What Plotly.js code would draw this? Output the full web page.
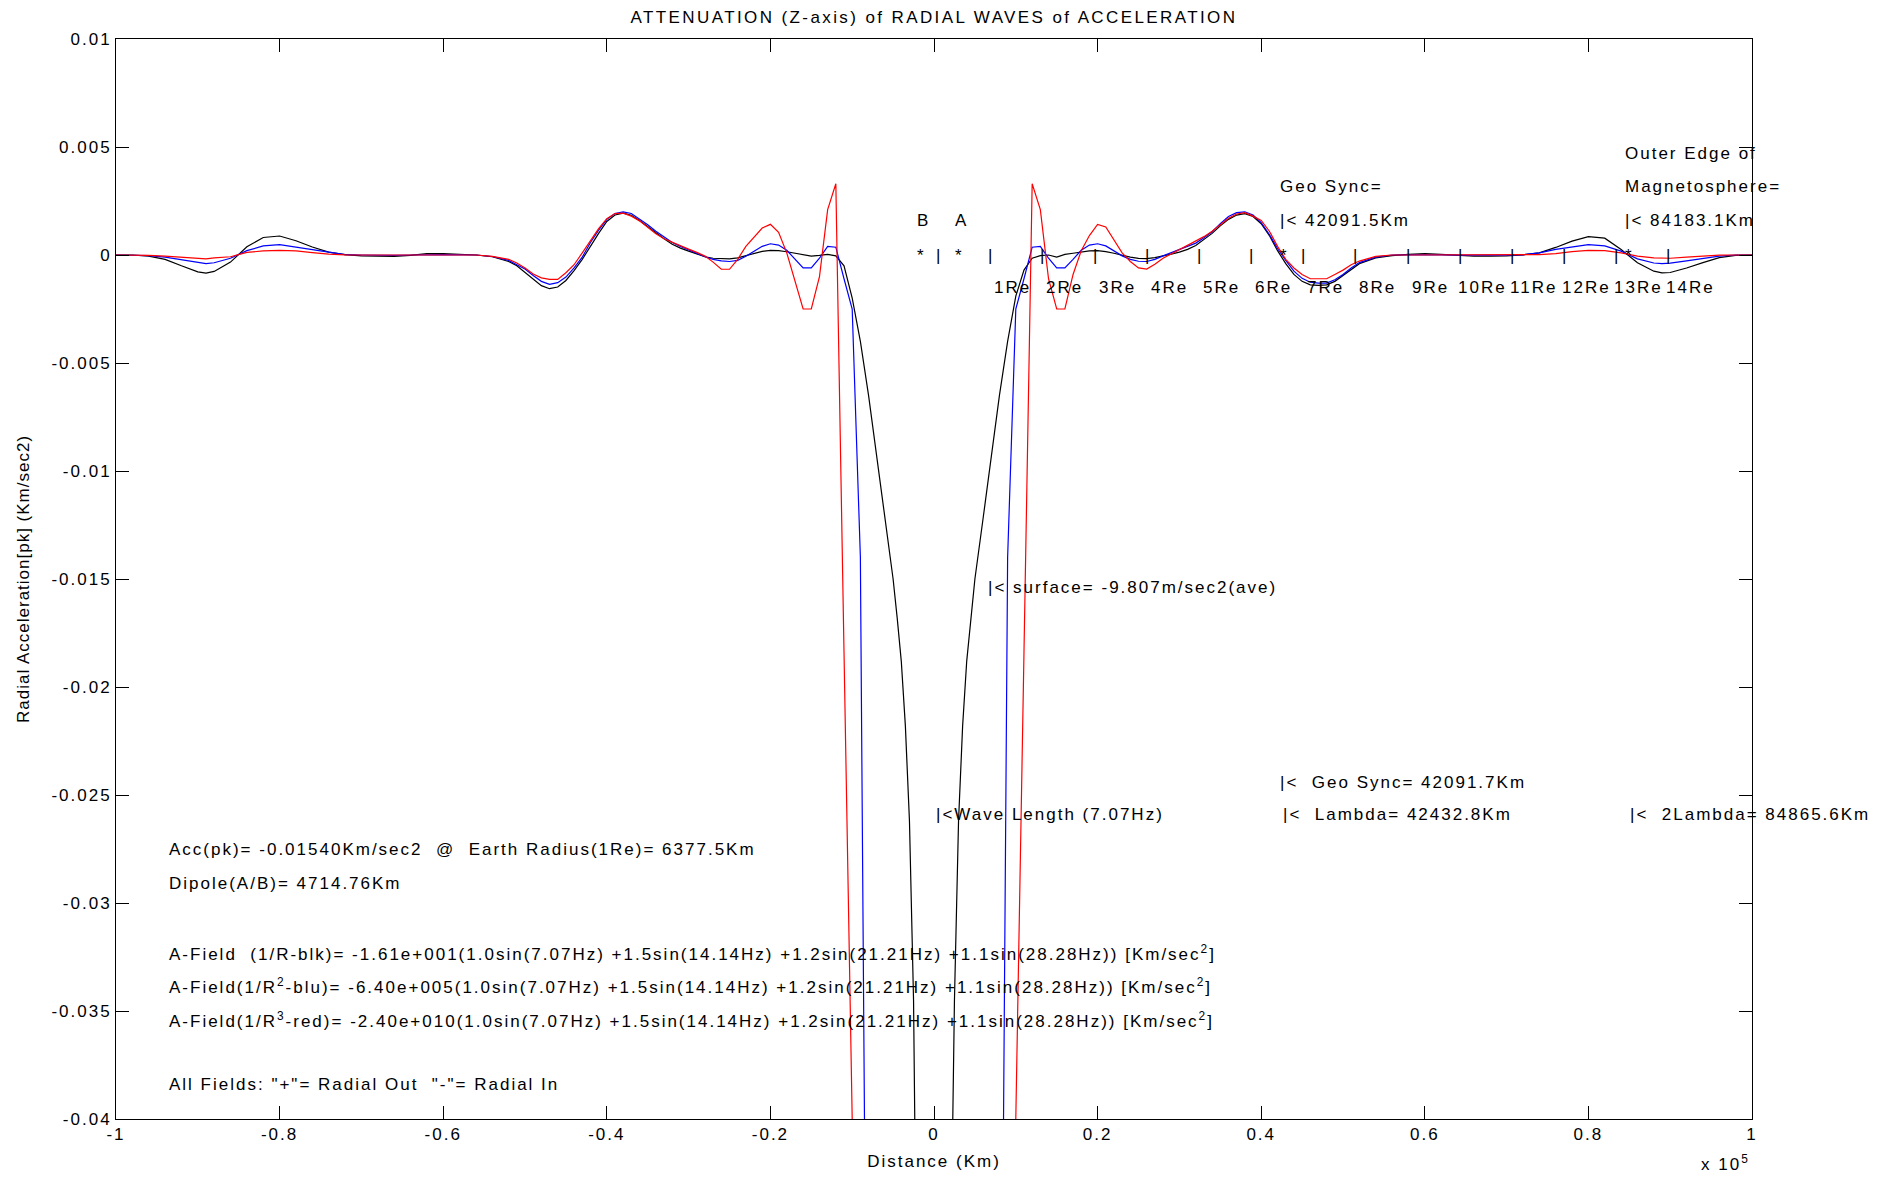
<!DOCTYPE html>
<html>
<head>
<meta charset="utf-8">
<script src="https://cdn.plot.ly/plotly-3.0.1.min.js"></script>
<style>
  html, body { margin: 0; padding: 0; background: #fff; }
  #chart { width: 1892px; height: 1177px; }
  svg text { letter-spacing: 2px; }
  svg text.ytitle { letter-spacing: 1px; }
  svg text.gtitle { letter-spacing: 2.4px; }
</style>
</head>
<body>
<div id="chart"></div>
<script>
// ---- Distance samples (Km) ----
const distKm = [
  -100000,-98000,-96000,-94000,-92000,-90000,-89000,-88000,-86000,-84000,-82000,-80000,-78000,-76000,-74000,-72000,-70000,-68000,-66000,-64000,-62000,-60000,-58000,-56000,-54000,-52000,
  -51000,-50000,-49000,-48000,-47000,-46000,-45000,-44000,-43000,-42000,-41000,-40000,-39000,-38000,-37000,-36000,-35000,-34000,-33000,-32000,-31000,-30000,
  -29000,-28000,-27000,-26000,-25000,-24000,-23000,-22000,-21000,-20000,-19000,-18000,-17000,-16000,-15000,-14000,-13000,-12000,-11000,-10000,
  -9000,-8000,-7000,-6000,-5000,-4500,-4000,-3500,-3000,-2500,-2000,-1000,0,1000,2000,2500,3000,3500,4000,4500,5000,6000,7000,8000,9000,
  10000,11000,12000,13000,14000,15000,16000,17000,18000,19000,20000,21000,22000,23000,24000,25000,26000,27000,28000,29000,
  30000,31000,32000,33000,34000,35000,36000,37000,38000,39000,40000,41000,42000,43000,44000,45000,46000,47000,48000,49000,50000,51000,
  52000,54000,56000,58000,60000,62000,64000,66000,68000,70000,72000,74000,76000,78000,80000,82000,84000,86000,88000,89000,90000,92000,94000,96000,98000,100000
];

// ---- A-Field 1/R (black) [Km/sec^2] ----
const accBlk = [
  0,0,-0.00005,-0.00020,-0.00050,-0.00078,-0.00084,-0.00076,-0.00033,0.00038,0.00081,0.00088,0.00066,0.00037,0.00013,0.00002,-0.00004,-0.00006,-0.00006,-0.00002,0.00006,0.00006,0.00002,0,-0.00008,-0.00030,
  -0.0005,-0.00082,-0.00112,-0.00142,-0.00156,-0.00148,-0.00118,-0.00072,-0.00020,0.00042,0.00100,0.00155,0.00185,0.00194,0.00184,0.00160,0.00131,0.00102,0.00075,0.00050,0.00032,0.00018,
  0.00004,-0.00008,-0.00015,-0.00018,-0.00018,-0.00013,-0.00004,0.00008,0.00017,0.00021,0.00020,0.00015,0.00008,0.00001,-0.00005,-0.00002,0.00003,-0.00004,-0.0005,-0.0020,
  -0.0040,-0.0065,-0.0094,-0.0122,-0.0150,-0.0168,-0.0188,-0.0218,-0.0262,-0.0345,-0.0480,-0.0900,-0.2000,-0.0900,-0.0480,-0.0345,-0.0262,-0.0218,-0.0188,-0.0168,-0.0150,-0.0122,-0.0094,-0.0065,-0.0040,
  -0.0019,-0.0007,-0.00015,-0.00003,0,-0.0001,0.00003,0.00008,0.00015,0.00019,0.00020,0.00016,0.00008,-0.00002,-0.00010,-0.00016,-0.00017,-0.00012,-0.00005,0.00004,
  0.00013,0.00026,0.00044,0.00070,0.00100,0.00135,0.00165,0.00185,0.00191,0.00178,0.00145,0.00090,0.00020,-0.00040,-0.00090,-0.00122,-0.00138,-0.00141,-0.00138,-0.00122,-0.00095,-0.00065,
  -0.0004,-0.00013,-0.00003,0.00003,0.00006,0.00003,-0.00002,-0.00005,-0.00005,-0.00004,0.00001,0.0001,0.00035,0.00064,0.00085,0.00078,0.00025,-0.00036,-0.00075,-0.00083,-0.00081,-0.0006,-0.00035,-0.00012,-0.00002,0
];

// ---- A-Field 1/R^2 (blue) [Km/sec^2] ----
const accBlu = [
  0,0,-0.00003,-0.0001,-0.00022,-0.00036,-0.0004,-0.00036,-0.00015,0.0002,0.00042,0.00048,0.00037,0.00025,0.00012,0.00002,0,-0.00002,-0.00002,0,0.00002,0.00002,0.00001,0,-0.00007,-0.00025,
  -0.00045,-0.00065,-0.00095,-0.00122,-0.00136,-0.00128,-0.00102,-0.0006,-0.0001,0.00058,0.00115,0.00165,0.00192,0.002,0.00192,0.00168,0.0014,0.0011,0.00083,0.00058,0.0004,0.00024,
  0.00008,-0.00008,-0.0002,-0.00027,-0.0003,-0.00025,-0.00006,0.00018,0.0004,0.00052,0.00046,0.00022,-0.0002,-0.0006,-0.0006,-0.00015,0.0004,0.00036,-0.0011,-0.0025,
  -0.014,-0.066,-0.11,-0.17,-0.25,-0.3,-0.35,-0.42,-0.5,-0.6,-0.7,-0.9,-1.0,-0.9,-0.7,-0.6,-0.5,-0.42,-0.35,-0.3,-0.25,-0.17,-0.11,-0.066,-0.014,
  -0.0025,-0.0011,0.00036,0.0004,-0.00015,-0.0006,-0.0006,-0.0002,0.00022,0.00046,0.00052,0.00042,0.00018,-0.00004,-0.0002,-0.00029,-0.0003,-0.0002,-0.00004,0.0001,
  0.00025,0.0004,0.00055,0.0008,0.00108,0.00145,0.00178,0.00196,0.002,0.00185,0.0015,0.00095,0.0003,-0.00025,-0.00075,-0.00108,-0.00126,-0.0013,-0.0013,-0.00115,-0.0009,-0.0006,
  -0.00035,-0.0001,0,0.00001,0.00002,0.00001,-0.00001,-0.00002,-0.00002,-0.00001,0.00001,0.0001,0.00026,0.00038,0.00048,0.00042,0.00018,-0.00018,-0.00037,-0.0004,-0.00038,-0.00027,-0.00016,-0.00005,0,0
];

// ---- A-Field 1/R^3 (red) [Km/sec^2] ----
const accRed = [
  0,0,-0.00002,-0.00005,-0.0001,-0.00013,-0.00018,-0.00013,-0.00008,0.00012,0.00019,0.00021,0.00019,0.00011,0.00004,0.00001,0,0,0,0,0,0,0,0,-0.00006,-0.0002,
  -0.00037,-0.0006,-0.00088,-0.00106,-0.00113,-0.00113,-0.00082,-0.00045,0.0001,0.00068,0.00122,0.00168,0.00192,0.00194,0.0018,0.00158,0.00128,0.00098,0.00075,0.00058,0.00042,0.00027,
  0.00012,-0.00005,-0.00033,-0.00066,-0.00066,-0.0002,0.0004,0.00085,0.00125,0.00142,0.00105,0.0001,-0.0012,-0.0025,-0.0025,-0.001,0.0021,0.0033,-0.0184,-0.04,
  -0.15,-0.25,-0.35,-0.5,-0.7,-0.85,-1,-1.25,-1.5,-1.75,-2,-2.5,-3,-2.5,-2,-1.75,-1.5,-1.25,-1,-0.85,-0.7,-0.5,-0.35,-0.25,-0.15,
  -0.04,-0.0184,0.0033,0.0021,-0.0011,-0.0025,-0.0025,-0.0009,0.0002,0.0009,0.00142,0.0013,0.0007,0.0001,-0.0003,-0.0006,-0.00065,-0.00043,-0.00015,0.00005,
  0.00025,0.00045,0.00063,0.00085,0.0011,0.0014,0.0017,0.0019,0.00196,0.0018,0.0016,0.0011,0.0004,-0.0002,-0.0006,-0.0009,-0.0011,-0.0011,-0.0011,-0.0009,-0.0007,-0.00045,
  -0.00028,-0.00006,0,0,0,0,0,0,0,0,0,0.00002,0.00006,0.00016,0.00021,0.0002,0.0001,-0.00005,-0.00013,-0.00015,-0.00015,-0.0001,-0.00005,-0.00001,0,0
];

// ---- Axis ticks ----
const xTickVals = [-100000,-80000,-60000,-40000,-20000,0,20000,40000,60000,80000,100000];
const xTickText = ['-1','-0.8','-0.6','-0.4','-0.2','0','0.2','0.4','0.6','0.8','1'];
const yTickVals = [0.01,0.005,0,-0.005,-0.01,-0.015,-0.02,-0.025,-0.03,-0.035,-0.04];
const yTickText = ['0.01','0.005','0','-0.005','-0.01','-0.015','-0.02','-0.025','-0.03','-0.035','-0.04'];

// ---- Earth-radius markers ----
const earthRadiusKm = 6377.5;
const reMarkKm = [6377.5,12755,19132.5,25510,31887.5,38265,44642.5,51020,57397.5,63775,70152.5,76530,82907.5,89285];
const reLabels = ['1Re','2Re','3Re','4Re','5Re','6Re','7Re','8Re','9Re','10Re','11Re','12Re','13Re','14Re'];
const dipoleHalfKm = 2357.38;
const geoSyncKm = 42091.5;
const outerEdgeKm = 84183.1;

const FONT = 'Liberation Sans, Arial, Helvetica, sans-serif';
const FS = 17;

const traces = [
  {x: distKm, y: accBlk, type: 'scatter', mode: 'lines', line: {color: '#000000', width: 1.2}, hoverinfo: 'skip'},
  {x: distKm, y: accBlu, type: 'scatter', mode: 'lines', line: {color: '#0000ff', width: 1.2}, hoverinfo: 'skip'},
  {x: distKm, y: accRed, type: 'scatter', mode: 'lines', line: {color: '#ff0000', width: 1.2}, hoverinfo: 'skip'}
];

const ann = [];
function txt(x, y, t, extra) {
  ann.push(Object.assign({x: x, y: y, xref: 'x', yref: 'y', text: t, showarrow: false,
    xanchor: 'left', yanchor: 'middle', font: {family: FONT, size: FS, color: '#000'}}, extra || {}));
}
// dipole markers
txt(-dipoleHalfKm, 0.0016, 'B');
txt(dipoleHalfKm, 0.0016, 'A');
txt(-dipoleHalfKm, 0, '*');
txt(dipoleHalfKm, 0, '*');
txt(0, 0, '|');
reMarkKm.forEach((k, i) => {
  txt(k, 0, '|');
  txt(k, -0.0015, reLabels[i], {xshift: reLabels[i].length === 3 ? 6 : 0});
});
txt(geoSyncKm, 0, '*');
txt(outerEdgeKm, 0, '*');
txt(geoSyncKm, 0.00318, 'Geo Sync=');
txt(geoSyncKm, 0.0016, '|< 42091.5Km');
txt(outerEdgeKm, 0.0047, 'Outer Edge of');
txt(outerEdgeKm, 0.00318, 'Magnetosphere=');
txt(outerEdgeKm, 0.0016, '|< 84183.1Km');
txt(earthRadiusKm, -0.0154, '|< surface= -9.807m/sec2(ave)');
txt(0, -0.0259, '|<Wave Length (7.07Hz)');
txt(42091.7, -0.0244, '|<\u00a0 Geo Sync= 42091.7Km');
txt(42432.8, -0.0259, '|<\u00a0 Lambda= 42432.8Km');
txt(84865.6, -0.0259, '|<\u00a0 2Lambda= 84865.6Km');
const leftX = -93800;
txt(leftX, -0.0275, 'Acc(pk)= -0.01540Km/sec2 \u00a0@ \u00a0Earth Radius(1Re)= 6377.5Km');
txt(leftX, -0.0291, 'Dipole(A/B)= 4714.76Km');
txt(leftX, -0.0323, 'A-Field \u00a0(1/R-blk)= -1.61e+001(1.0sin(7.07Hz) +1.5sin(14.14Hz) +1.2sin(21.21Hz) +1.1sin(28.28Hz)) [Km/sec<sup>2</sup>]');
txt(leftX, -0.03385, 'A-Field(1/R<sup>2</sup>-blu)= -6.40e+005(1.0sin(7.07Hz) +1.5sin(14.14Hz) +1.2sin(21.21Hz) +1.1sin(28.28Hz)) [Km/sec<sup>2</sup>]');
txt(leftX, -0.0354, 'A-Field(1/R<sup>3</sup>-red)= -2.40e+010(1.0sin(7.07Hz) +1.5sin(14.14Hz) +1.2sin(21.21Hz) +1.1sin(28.28Hz)) [Km/sec<sup>2</sup>]');
txt(leftX, -0.0384, 'All Fields: "+"= Radial Out \u00a0"-"= Radial In');
// exponent label
ann.push({xref: 'paper', yref: 'paper', x: 1, y: -0.0525, xanchor: 'right', yanchor: 'bottom',
  text: 'x 10<sup>5</sup>', showarrow: false, font: {family: FONT, size: FS, color: '#000'}});

const axisCommon = {
  showline: true, linecolor: '#000', linewidth: 1, mirror: 'ticks',
  ticks: 'inside', ticklen: 13, tickwidth: 1, tickcolor: '#000',
  showgrid: false, zeroline: false, tickmode: 'array',
  tickfont: {family: FONT, size: FS, color: '#000'}
};

const layout = {
  width: 1892, height: 1177,
  margin: {l: 116, r: 140, t: 39, b: 58},
  paper_bgcolor: '#fff', plot_bgcolor: '#fff',
  showlegend: false,
  font: {family: FONT, size: FS, color: '#000'},
  title: {text: 'ATTENUATION (Z-axis) of RADIAL WAVES of ACCELERATION', font: {family: FONT, size: FS, color: '#000'},
    xref: 'paper', x: 0.5, xanchor: 'center', yref: 'container', y: 1 - 17/1177, yanchor: 'middle'},
  xaxis: Object.assign({}, axisCommon, {range: [-100000, 100000], tickvals: xTickVals, ticktext: xTickText,
    title: {text: 'Distance (Km)', font: {family: FONT, size: FS, color: '#000'}, standoff: 11}, automargin: false}),
  yaxis: Object.assign({}, axisCommon, {range: [-0.04, 0.01], tickvals: yTickVals, ticktext: yTickText,
    title: {text: 'Radial Acceleration[pk] (Km/sec2)', font: {family: FONT, size: FS, color: '#000'}, standoff: 17}, automargin: false}),
  annotations: ann
};

Plotly.newPlot('chart', traces, layout, {displayModeBar: false, staticPlot: true});
</script>
</body>
</html>
